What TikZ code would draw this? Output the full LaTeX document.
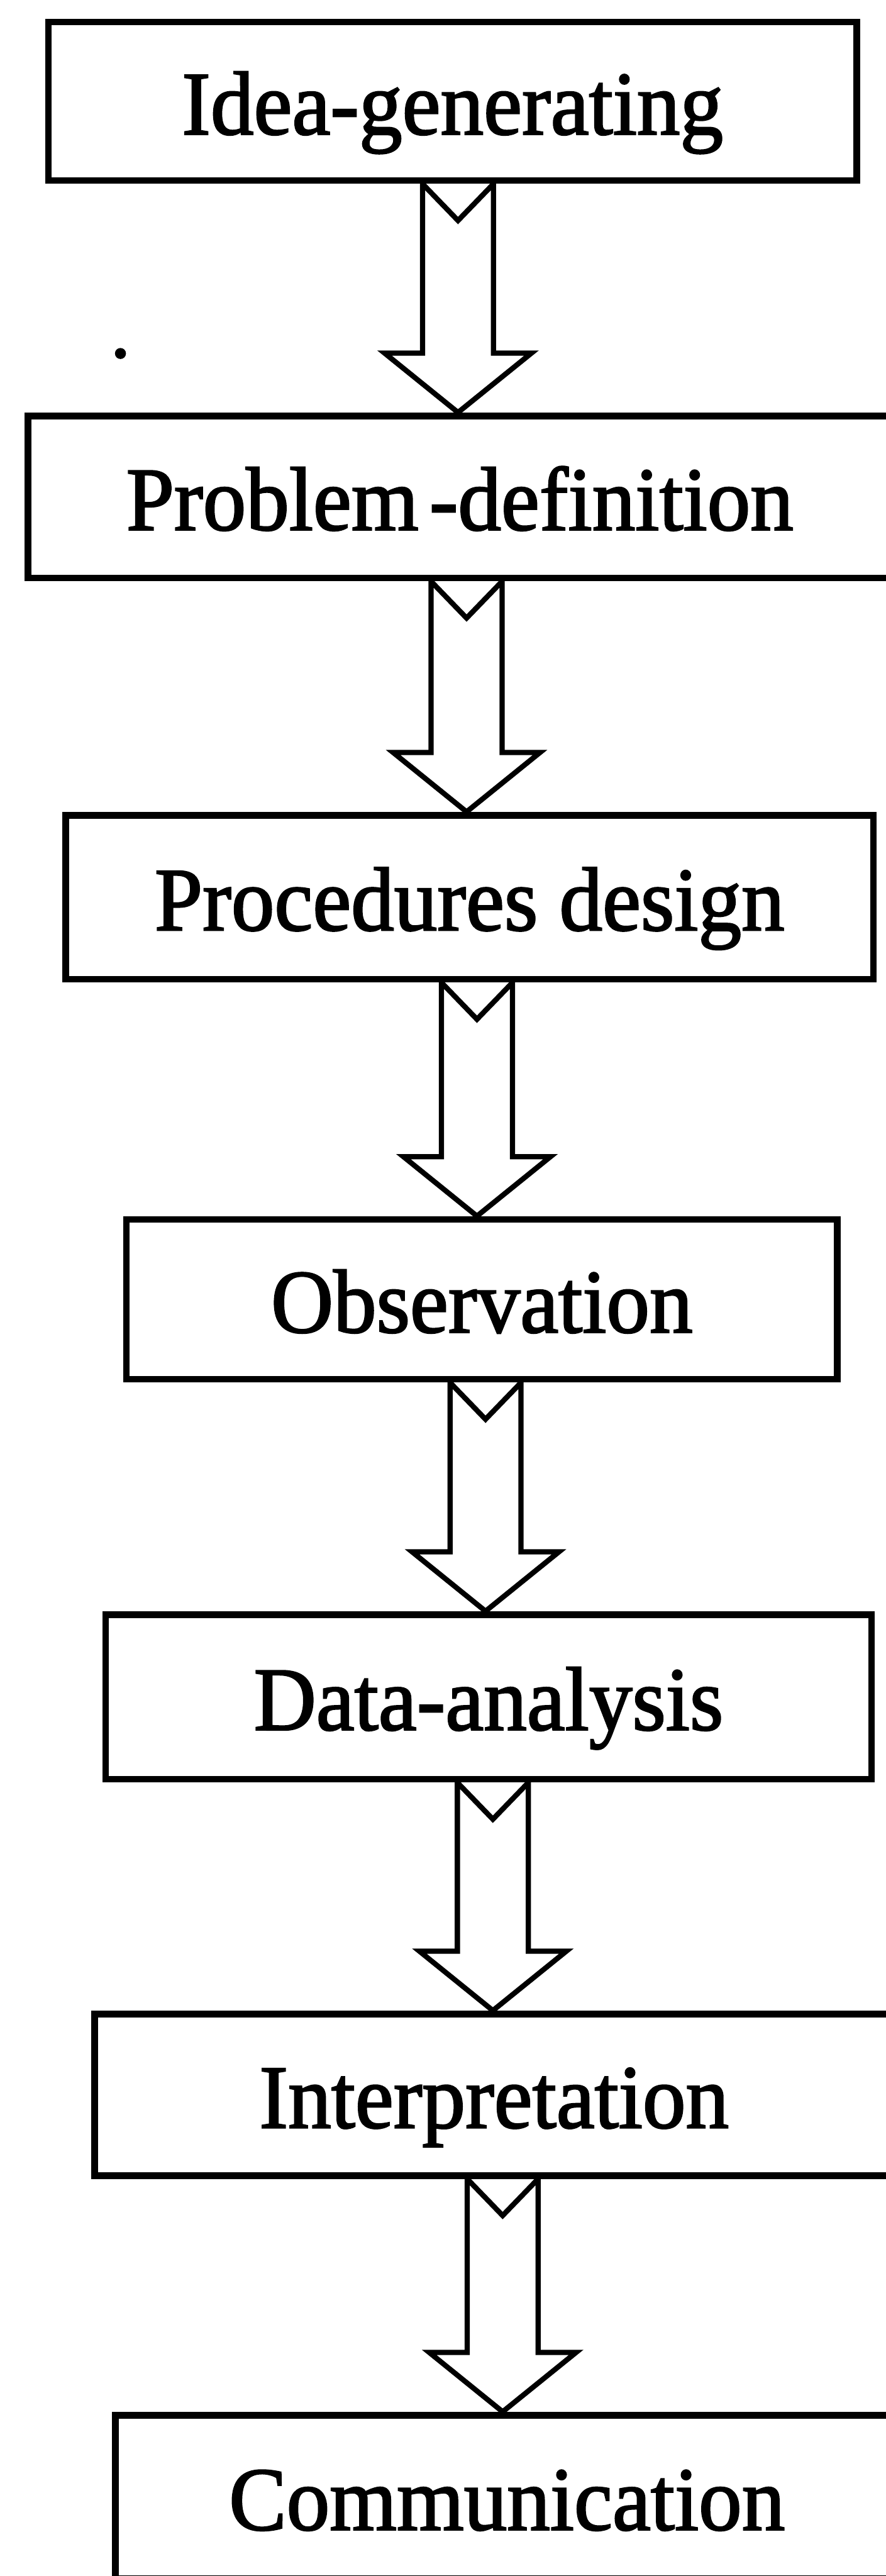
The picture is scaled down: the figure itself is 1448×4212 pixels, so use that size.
\documentclass[tikz,border=0pt]{standalone}
\usepackage{fontspec}
\setmainfont{Liberation Serif}[FakeStretch=0.955, FakeBold=1.8]
\usetikzlibrary{calc}

\tikzset{
  stage/.style={draw, rectangle, line width=0.11cm, inner sep=0pt,
    text height=1.08cm, text depth=0pt, align=center,
    font=\fontsize{42}{50}\selectfont},
  blockline/.style={draw, line width=0.085cm, line join=miter},
}

% hollow block arrow with a notched tail, from the bottom of #1 to the top of #2,
% its shaft centred on x = #3
\newcommand\blockarrow[3]{%
  \coordinate (#1-out) at (#3,0 |- #1.south);
  \coordinate (#2-in) at (#3,0 |- #2.north);
  \draw[blockline]
    ($(#1-out)+(-0.58cm,0)$) -- ($(#1-out)+(0,-0.6cm)$) -- ($(#1-out)+(0.58cm,0)$)
    -- ($(#2-in)+(0.58cm,0.97cm)$) -- ($(#2-in)+(1.2cm,0.97cm)$) -- (#2-in)
    -- ($(#2-in)+(-1.2cm,0.97cm)$) -- ($(#2-in)+(-0.58cm,0.97cm)$) -- cycle;
}

\begin{document}
\begin{tikzpicture}[x=0.01cm, y=-0.01cm]
  \fill[white] (0,0) rectangle (1448,4212);
  \useasboundingbox (0,0) rectangle (1448,4212);

  % process stages
  \node[stage, minimum width=13.21cm, minimum height=2.59cm] (idea)   at (740,165.5)  {Idea-generating};
  \node[stage, minimum width=14.12cm, minimum height=2.65cm] (prob)   at (752,812.5)  {Problem\kern0.12em-definition};
  \node[stage, minimum width=13.20cm, minimum height=2.68cm] (proc)   at (768,1467)   {Procedures design};
  \node[stage, minimum width=11.62cm, minimum height=2.61cm] (obs)    at (788,2124.5) {Observation};
  \node[stage, minimum width=12.52cm, minimum height=2.69cm] (data)   at (799,2774.5) {Data-analysis};
  \node[stage, minimum width=13.06cm, minimum height=2.64cm] (interp) at (808,3425)   {Interpretation};
  \node[stage, minimum width=12.80cm, minimum height=2.67cm] (comm)   at (829,4082.5) {Communication};

  % stray speck beside the first arrow
  \node[circle, fill, inner sep=0pt, minimum size=0.18cm] (speck) at (197,578) {};

  % arrows between stages
  \blockarrow{idea}{prob}{749}
  \blockarrow{prob}{proc}{763}
  \blockarrow{proc}{obs}{780}
  \blockarrow{obs}{data}{794}
  \blockarrow{data}{interp}{806}
  \blockarrow{interp}{comm}{822}
\end{tikzpicture}
\end{document}
